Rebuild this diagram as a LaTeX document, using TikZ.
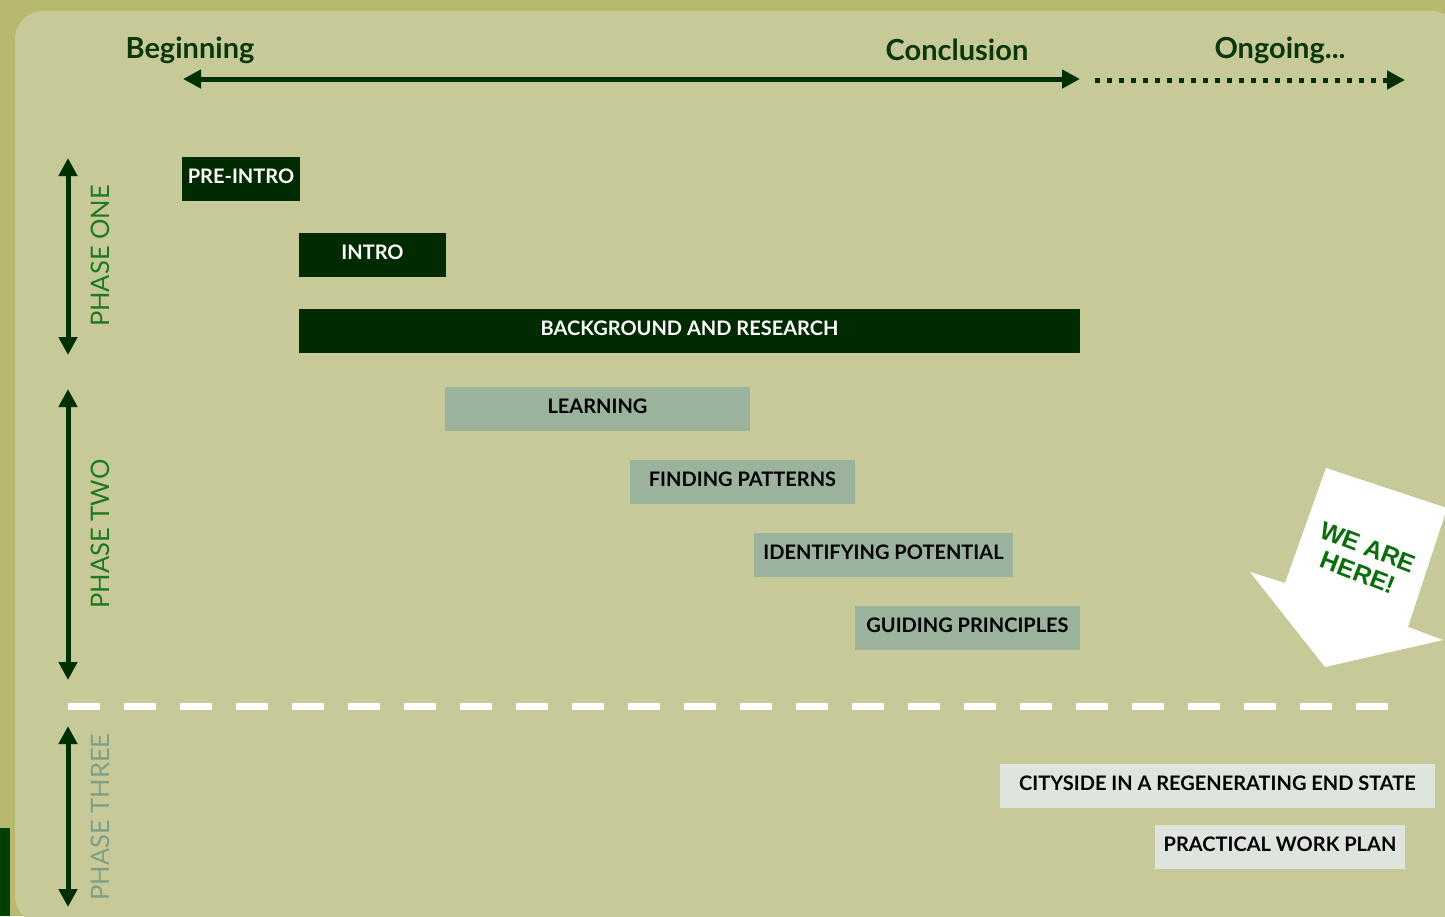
\documentclass[tikz,border=0pt]{standalone}
\usepackage{fontspec}
\setmainfont{Lato}
\newfontfamily\signfont{Liberation Sans}
\usetikzlibrary{arrows.meta}

\definecolor{outerbg}{RGB}{184,184,110}
\definecolor{panelbg}{RGB}{199,201,153}
\definecolor{darkgreen}{RGB}{0,42,0}
\definecolor{arrowgreen}{RGB}{0,48,0}
\definecolor{headgreen}{RGB}{10,55,10}
\definecolor{phasegreen}{RGB}{30,122,30}
\definecolor{phasegrey}{RGB}{127,160,135}
\definecolor{sagebox}{RGB}{155,178,157}
\definecolor{palebox}{RGB}{223,229,222}
\definecolor{bargreen}{RGB}{0,64,0}
\definecolor{signgreen}{RGB}{10,110,10}

\begin{document}
\begin{tikzpicture}[x=1pt,y=-1pt,
    tag/.style={inner sep=0pt, minimum height=44pt, text height=14.5pt, text depth=5pt,
                font=\fontsize{20}{20}\selectfont\bfseries},
    darkbox/.style={tag, fill=darkgreen, text=white},
    sagetag/.style={tag, fill=sagebox, text=black},
    paletag/.style={tag, fill=palebox, text=black},
    heading/.style={text=headgreen, font=\fontsize{29}{29}\selectfont\bfseries},
    phaselabel/.style={rotate=90, font=\fontsize{25.5}{25.5}\selectfont},
    span/.style={arrowgreen, line width=5pt, {Triangle[length=18pt,width=18pt]}-{Triangle[length=18pt,width=18pt]}}]

    \useasboundingbox (0,0) rectangle (1445,916);

    % Background
    \fill[outerbg] (0,0) rectangle (1445,916);
    \fill[panelbg, rounded corners=28pt] (15,11) rectangle (1460,924);
    \fill[bargreen] (0,828) rectangle (10,916);

    % Timeline
    \node[heading] (beginning) at (190,50) {Beginning};
    \node[heading] (conclusion) at (957,50) {Conclusion};
    \node[heading] (ongoing) at (1280,50) {Ongoing...};

    \coordinate (tstart) at (183,79);
    \coordinate (tend) at (1080,79);
    \coordinate (ostart) at (1095,80);
    \coordinate (oend) at (1405,80);
    \draw[span] (tstart) -- (tend);
    \draw[arrowgreen, line width=5pt, dash pattern=on 5pt off 7pt, -{Triangle[length=18pt,width=18pt]}] (ostart) -- (oend);

    % Phase arrows
    \coordinate (p1top) at (68,158);
    \coordinate (p1bot) at (68,355);
    \coordinate (p2top) at (68,389);
    \coordinate (p2bot) at (68,680);
    \coordinate (p3top) at (68,726);
    \coordinate (p3bot) at (68,907);
    \draw[span] (p1top) -- (p1bot);
    \draw[span] (p2top) -- (p2bot);
    \draw[span] (p3top) -- (p3bot);

    \node[phaselabel, text=phasegreen] (phaseone) at (100,256) {PHASE ONE};
    \node[phaselabel, text=phasegreen] (phasetwo) at (100,534) {PHASE TWO};
    \node[phaselabel, text=phasegrey] (phasethree) at (100,817) {PHASE THREE};

    % Phase one
    \node[darkbox, minimum width=118pt] (preintro) at (241,179) {PRE-INTRO};
    \node[darkbox, minimum width=147pt] (intro) at (372.5,255) {INTRO};
    \node[darkbox, minimum width=781pt] (background) at (689.5,331) {BACKGROUND AND RESEARCH};

    % Phase two
    \node[sagetag, minimum width=305pt] (learning) at (597.5,409) {LEARNING};
    \node[sagetag, minimum width=225pt] (patterns) at (742.5,482) {FINDING PATTERNS};
    \node[sagetag, minimum width=259pt] (potential) at (883.5,555) {IDENTIFYING POTENTIAL};
    \node[sagetag, minimum width=225pt] (principles) at (967.5,628) {GUIDING PRINCIPLES};

    % Divider
    \coordinate (dstart) at (68,706);
    \coordinate (dend) at (1390,706);
    \draw[white, line width=7pt, dash pattern=on 32pt off 24pt] (dstart) -- (dend);

    % Phase three
    \node[paletag, minimum width=435pt] (cityside) at (1217.5,786) {CITYSIDE IN A REGENERATING END STATE};
    \node[paletag, minimum width=250pt] (workplan) at (1280,847) {PRACTICAL WORK PLAN};

    % We are here
    \fill[white] (1326,468) -- (1447,508) -- (1408,627) -- (1443,640) -- (1325,667)
        -- (1250,572) -- (1285,583) -- cycle;
    \node[rotate=-21, align=center, text=signgreen, inner sep=0pt,
          font=\signfont\fontsize{25}{27}\selectfont\bfseries] (wearehere) at (1363,560) {WE ARE\\HERE!};

\end{tikzpicture}
\end{document}
